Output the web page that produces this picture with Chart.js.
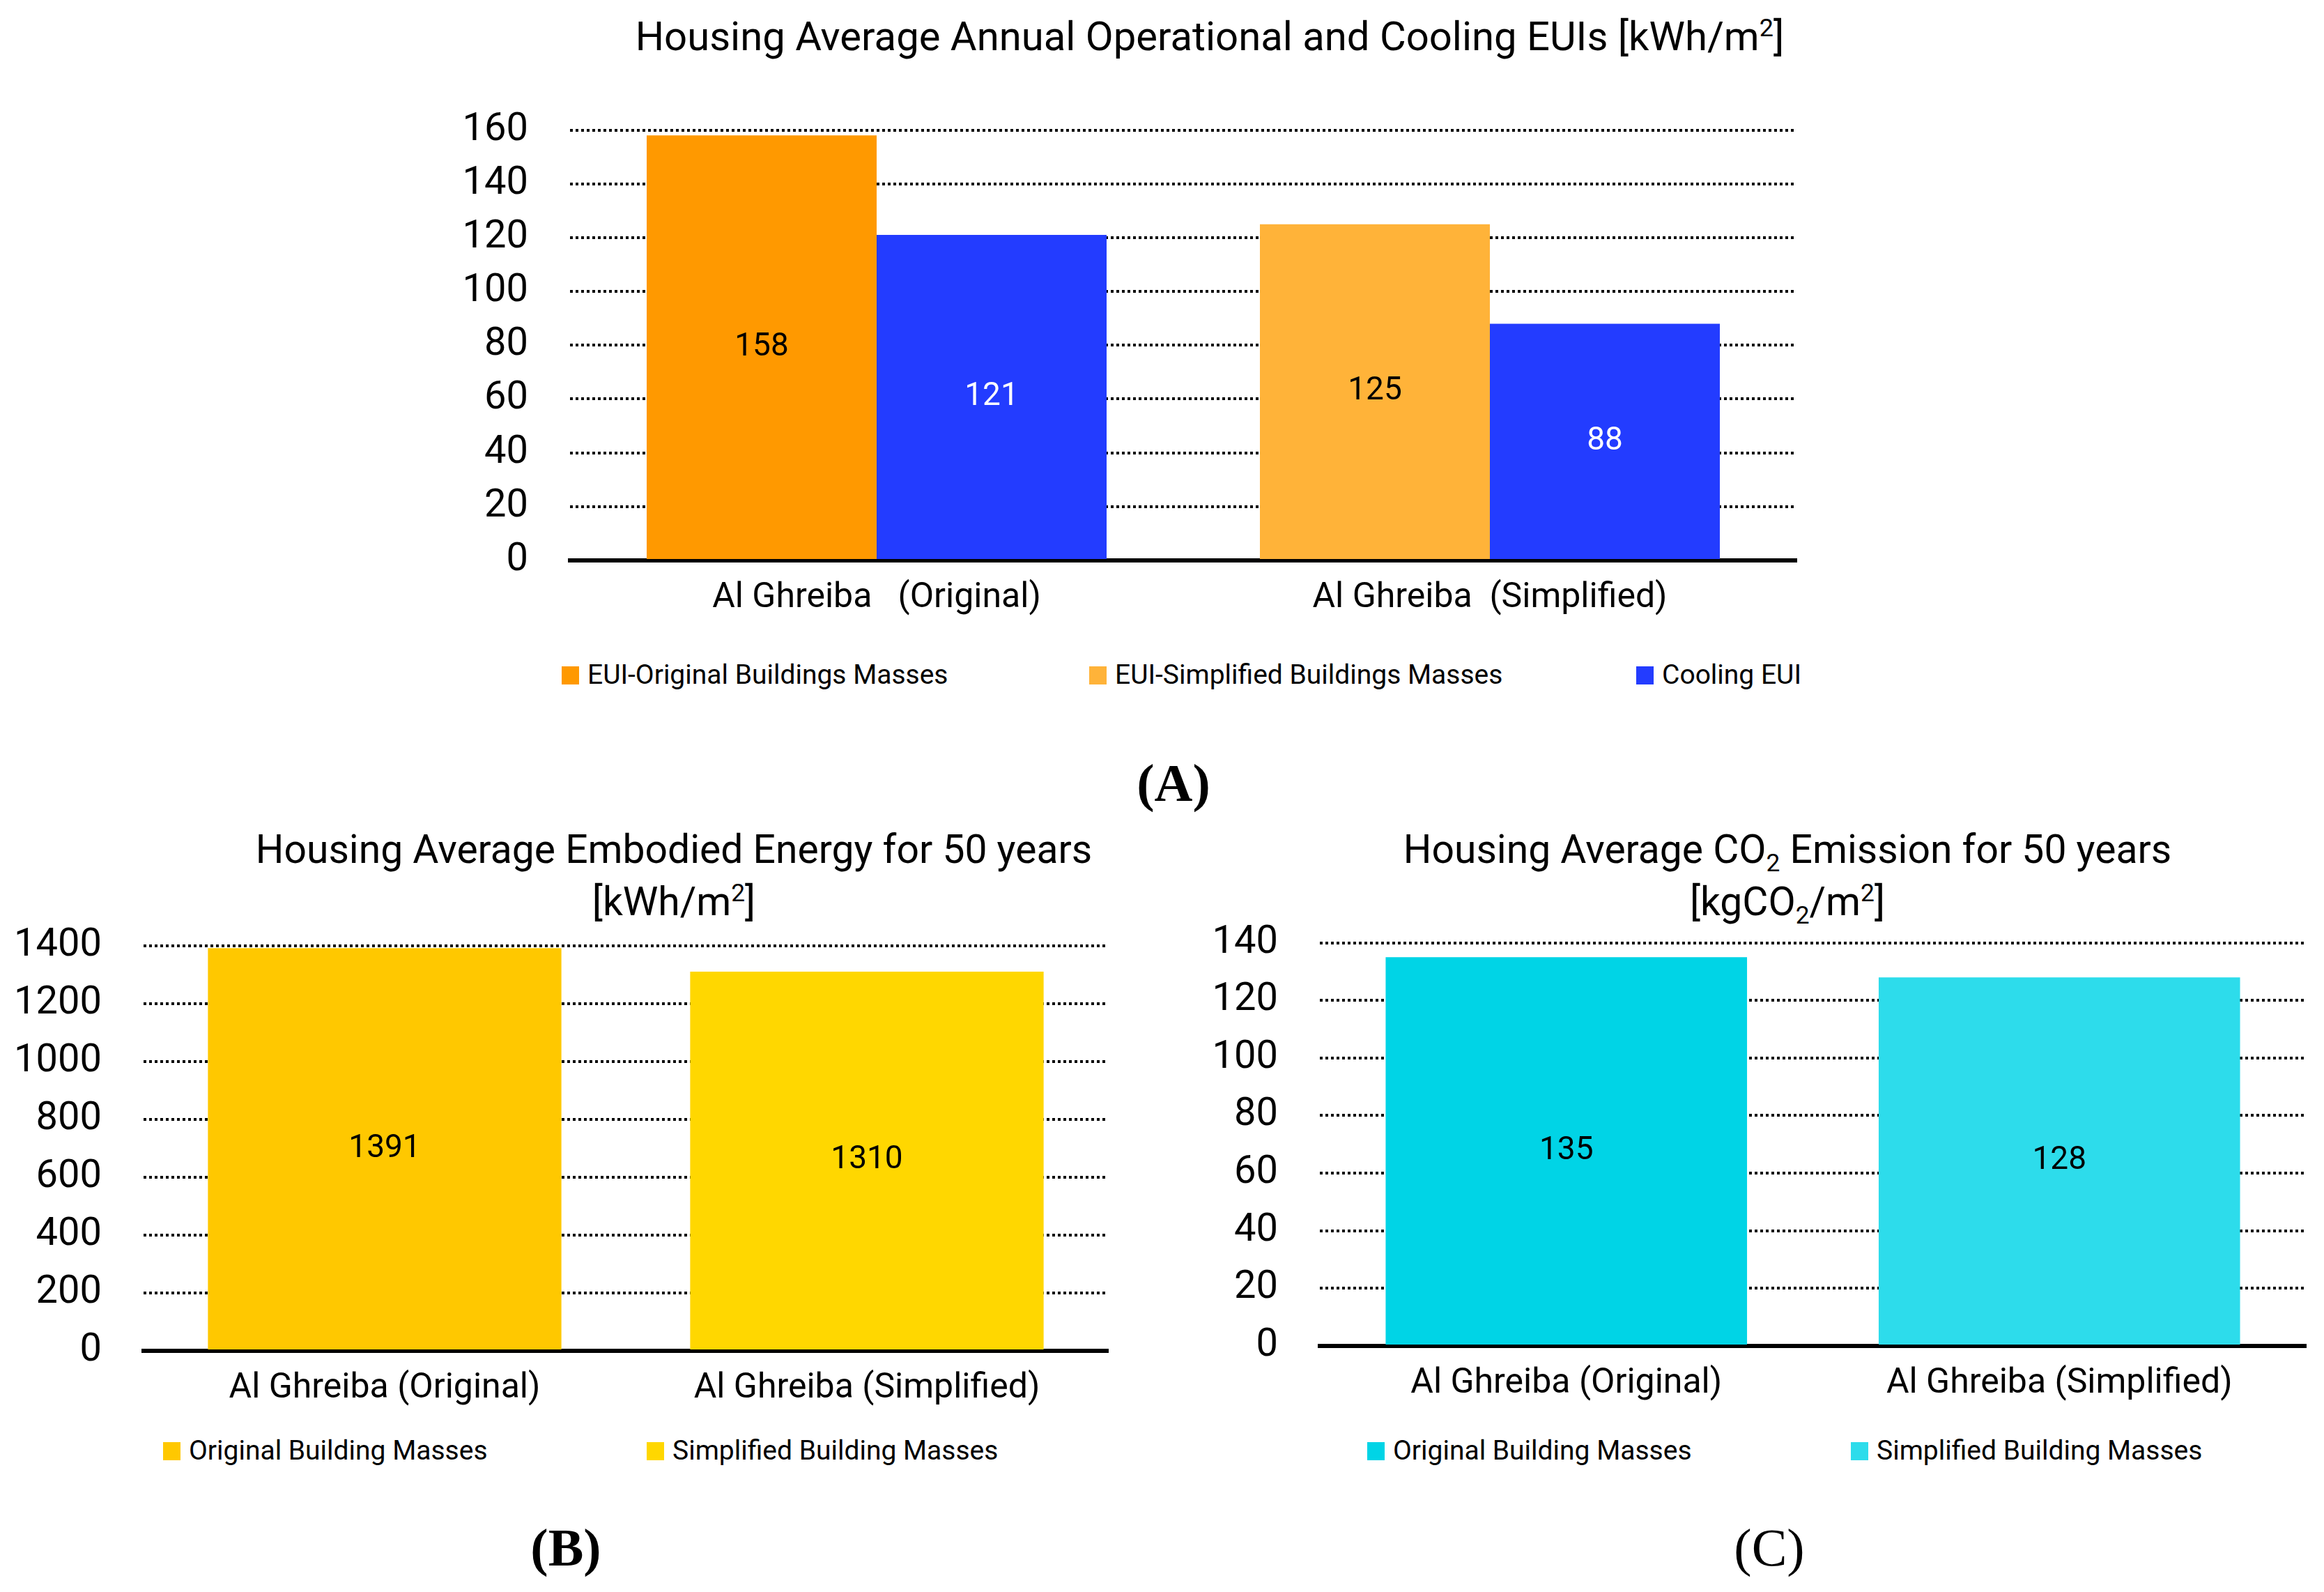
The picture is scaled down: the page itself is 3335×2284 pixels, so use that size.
<!DOCTYPE html>
<html lang="en">
<head>
<meta charset="UTF-8">
<title>Housing EUIs, embodied energy and CO2</title>
<script src="https://cdn.jsdelivr.net/npm/chart.js"></script>
<style>
  body { margin: 0; background: #fff; font-family: Roboto, sans-serif; color: #000; }
  #page { position: relative; width: 3335px; height: 2284px; overflow: hidden; }
  canvas, .txt { position: absolute; }
  .title { font-size: 57px; line-height: 75px; text-align: center; white-space: nowrap; transform: translateX(-50%); }
  sup, sub { font-size: 0.62em; line-height: 0; }
  .legend { font-size: 39px; line-height: 39px; white-space: nowrap; }
  .legend i { position: absolute; left: 0; top: 7px; width: 25px; height: 26px; }
  .legend span { position: absolute; left: 37px; top: 0; }
  .panel { font-family: "Liberation Serif", serif; font-size: 76px; line-height: 76px; transform: translate(-50%, -50%); }
</style>
</head>
<body>
<div id="page">
  <div class="txt title" style="left:1736px; top:15px; font-size:58px;">Housing Average Annual Operational and Cooling EUIs [kWh/m<sup>2</sup>]</div>
  <div class="txt title" style="left:967px; top:1181px;">Housing Average Embodied Energy for 50 years<br>[kWh/m<sup>2</sup>]</div>
  <div class="txt title" style="left:2565px; top:1181px;">Housing Average CO<sub>2</sub> Emission for 50 years<br>[kgCO<sub>2</sub>/m<sup>2</sup>]</div>

  <canvas id="chartA"></canvas>
  <canvas id="chartB"></canvas>
  <canvas id="chartC"></canvas>

  <div class="txt panel" style="left:1684px; top:1123px; font-weight:bold;">(A)</div>
  <div class="txt panel" style="left:812px; top:2220px; font-weight:bold;">(B)</div>
  <div class="txt panel" style="left:2539px; top:2220px;">(C)</div>
</div>

<script>
  // --- data ---
  const categoriesA = ['Al Ghreiba   (Original)', 'Al Ghreiba  (Simplified)'];
  const euiOriginal = [158, null];
  const euiSimplified = [null, 125];
  const coolingEui = [121, 88];

  const categoriesBC = ['Al Ghreiba (Original)', 'Al Ghreiba (Simplified)'];
  const embodiedOriginal = [1391, null];
  const embodiedSimplified = [null, 1310];
  const co2Original = [135, null];
  const co2Simplified = [null, 128];

  const legendA = ['EUI-Original Buildings Masses', 'EUI-Simplified Buildings Masses', 'Cooling EUI'];
  const legendBC = ['Original Building Masses', 'Simplified Building Masses'];

  Chart.defaults.font.family = 'Roboto';
  Chart.defaults.color = '#000';

  // values written in the middle of each bar
  const valueLabels = {
    id: 'valueLabels',
    afterDatasetsDraw(chart) {
      const ctx = chart.ctx;
      ctx.save();
      ctx.font = '46px Roboto';
      ctx.textAlign = 'center';
      ctx.textBaseline = 'middle';
      chart.data.datasets.forEach((ds, i) => {
        chart.getDatasetMeta(i).data.forEach((bar, j) => {
          const v = ds.data[j];
          if (v == null) return;
          ctx.fillStyle = ds.labelColor || '#000';
          ctx.fillText(v, bar.x, (bar.y + bar.base) / 2);
        });
      });
      ctx.restore();
    }
  };

  function makeChart(id, g, labels, datasets, yMax, yStep, catPct) {
    const canvas = document.getElementById(id);
    canvas.width = g.width;
    canvas.height = g.height;
    canvas.style.left = g.left + 'px';
    canvas.style.top = g.top + 'px';
    canvas.style.width = g.width + 'px';
    canvas.style.height = g.height + 'px';

    const chart = new Chart(canvas.getContext('2d'), {
      type: 'bar',
      data: { labels: labels, datasets: datasets },
      options: {
        responsive: false,
        animation: false,
        layout: { padding: { top: g.padTop, right: g.padRight, left: 0, bottom: 0 } },
        datasets: { bar: { skipNull: true, categoryPercentage: catPct, barPercentage: 1.0, borderWidth: 0 } },
        plugins: { legend: { display: false }, title: { display: false }, tooltip: { enabled: false } },
        scales: {
          x: {
            grid: { display: false },
            border: { display: true, color: '#000', width: 6 },
            ticks: { font: { size: 50 }, padding: 16 },
            afterFit(scale) { scale.height = g.xAxisHeight; }
          },
          y: {
            min: 0,
            max: yMax,
            grid: { color: '#000', lineWidth: 4, drawTicks: false },
            border: { display: false, dash: [4, 4] },
            ticks: { stepSize: yStep, font: { size: 56 }, padding: 60, callback: v => String(v) },
            afterFit(scale) { scale.width = g.yAxisWidth; }
          }
        }
      },
      plugins: [valueLabels]
    });
    return chart;
  }

  function makeLegend(chart, names, xs, top) {
    const page = document.getElementById('page');
    chart.data.datasets.forEach((ds, i) => {
      const item = document.createElement('div');
      item.className = 'txt legend';
      item.style.left = xs[i] + 'px';
      item.style.top = top + 'px';
      const box = document.createElement('i');
      box.style.background = ds.backgroundColor;
      const label = document.createElement('span');
      label.textContent = names[i];
      item.appendChild(box);
      item.appendChild(label);
      page.appendChild(item);
    });
  }

  const chartA = makeChart('chartA',
    { left: 618, top: 93, width: 1980, height: 817, yAxisWidth: 200, xAxisHeight: 106, padTop: 46, padRight: 20 },
    categoriesA,
    [
      { label: legendA[0], data: euiOriginal, backgroundColor: '#FF9900', labelColor: '#000' },
      { label: legendA[1], data: euiSimplified, backgroundColor: '#FFB339', labelColor: '#000' },
      { label: legendA[2], data: coolingEui, backgroundColor: '#233CFF', labelColor: '#fff' }
    ],
    160, 20, 0.75);

  const chartB = makeChart('chartB',
    { left: 0, top: 1263, width: 1610, height: 777, yAxisWidth: 206, xAxisHeight: 102, padTop: 48, padRight: 20 },
    categoriesBC,
    [
      { label: legendBC[0], data: embodiedOriginal, backgroundColor: '#FFC800' },
      { label: legendBC[1], data: embodiedSimplified, backgroundColor: '#FFD700' }
    ],
    1400, 200, 0.733);

  const chartC = makeChart('chartC',
    { left: 1700, top: 1259, width: 1630, height: 771, yAxisWidth: 194, xAxisHeight: 99, padTop: 50, padRight: 21 },
    categoriesBC,
    [
      { label: legendBC[0], data: co2Original, backgroundColor: '#00D4E6' },
      { label: legendBC[1], data: co2Simplified, backgroundColor: '#2DDCEB' }
    ],
    140, 20, 0.733);

  makeLegend(chartA, legendA, [806, 1563, 2348], 949);
  makeLegend(chartB, legendBC, [234, 928], 2062);
  makeLegend(chartC, legendBC, [1962, 2656], 2062);
</script>
</body>
</html>
